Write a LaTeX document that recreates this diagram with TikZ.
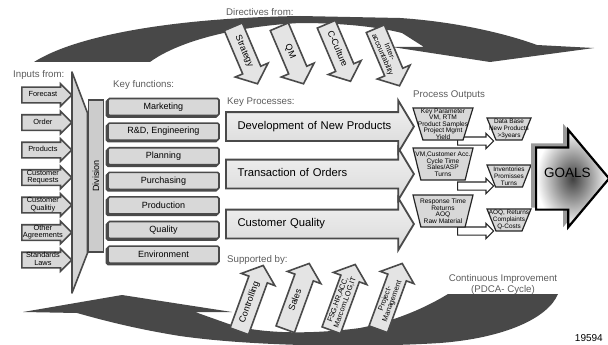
\documentclass[tikz,border=0pt]{standalone}
\usepackage{fontspec}
\setmainfont{Liberation Sans}
\usetikzlibrary{positioning, shapes.arrows, shapes.geometric, calc, shadows}

\definecolor{swoopGray}{HTML}{484848}
\definecolor{edgeGray}{HTML}{4A4A4A}
\definecolor{boxGray}{HTML}{D8D8D8}
\definecolor{paleGray}{HTML}{E4E4E4}
\definecolor{headingGray}{HTML}{5C5C5C}

\newcommand{\twoline}[2]{\begin{tabular}{@{}c@{}}#1\\#2\end{tabular}}

\begin{document}
\begin{tikzpicture}[
  x=1pt, y=-1pt,
  % Styles
  heading/.style={font=\fontsize{9.7}{11}\selectfont, text=headingGray, inner sep=0pt, align=center},
  inarrow/.style={
    single arrow, draw=edgeGray, fill=boxGray, line width=1.6pt,
    single arrow head extend=3.5pt, single arrow tip angle=90,
    minimum height=50pt, text height=5pt, text depth=1.5pt,
    inner xsep=0pt, inner ysep=3.75pt,
    font=\fontsize{7.4}{7.5}\selectfont, anchor=tail
  },
  divbox/.style={
    rectangle, draw=edgeGray, fill=black!20, line width=1.6pt,
    minimum width=152pt, minimum height=15pt, inner sep=0pt,
    font=\fontsize{9}{10}\selectfont
  },
  funcbox/.style={
    rectangle, rounded corners=1.5pt, draw=edgeGray, fill=boxGray, line width=1.6pt,
    minimum width=111pt, minimum height=17pt, inner sep=0pt,
    font=\fontsize{9}{10}\selectfont,
    copy shadow={shadow xshift=-1.5pt, shadow yshift=-1.5pt, fill=edgeGray, draw=edgeGray}
  },
  procarrow/.style={
    single arrow, draw=edgeGray, line width=1.8pt,
    top color=black!5, bottom color=black!15,
    single arrow head extend=11.5pt, single arrow tip angle=118,
    minimum height=188pt, text height=8pt, text depth=3pt,
    inner xsep=3pt, inner ysep=8pt, text width=156pt, align=left,
    font=\fontsize{11.25}{13}\selectfont, anchor=tail
  },
  pullarrow/.style={
    single arrow, draw=edgeGray, fill=paleGray, line width=1.6pt,
    single arrow head extend=8pt, single arrow tip angle=100,
    text height=6pt, text depth=2pt, inner xsep=1pt, inner ysep=5pt,
    font=\fontsize{9}{9.5}\selectfont, anchor=tail
  },
  dirarrow/.style={pullarrow, rotate=-67, minimum height=62pt},
  supparrow/.style={pullarrow, rotate=70, minimum height=70pt},
  outbox/.style={
    trapezium, shape border rotate=180, trapezium angle=72,
    trapezium stretches body=true, draw=black!85, fill=boxGray, line width=1.2pt,
    minimum width=60pt, minimum height=32pt, inner xsep=-9pt, inner ysep=0pt,
    align=center, font=\fontsize{6.6}{6.5}\selectfont
  },
  resultbox/.style={
    outbox, trapezium angle=65, minimum width=44pt, minimum height=22pt,
    inner xsep=-9.5pt, font=\fontsize{6.4}{6.8}\selectfont
  },
  hollowarrow/.style={
    single arrow, draw=black!85, fill=white, line width=1.2pt,
    single arrow head extend=3.5pt, single arrow tip angle=90,
    minimum height=36pt, text height=0pt, text depth=0pt,
    inner xsep=0pt, inner ysep=3.5pt, anchor=tail
  },
  goalarrow/.style={
    single arrow, draw=black, line width=2.2pt,
    inner color=black!75, outer color=white,
    single arrow head extend=17.5pt, single arrow tip angle=100,
    minimum height=73pt, text height=0pt, text depth=0pt,
    inner xsep=0pt, inner ysep=30pt, anchor=tail,
    copy shadow={shadow xshift=-4pt, shadow yshift=3pt, fill=black!40, draw=black!40}
  },
]
\useasboundingbox (0,0) rectangle (608,345);

% === PDCA SWOOSHES ===
\fill[swoopGray] (34,62) .. controls (75,36) and (170,18) .. (300,16) -- (400,18)
  .. controls (460,22) and (510,35) .. (537,45) -- (594,48) -- (490,62) -- (392,47)
  -- (424,47) -- (402,33) .. controls (370,25) and (330,23) .. (300,23)
  .. controls (240,26) and (180,40) .. (150,62) -- cycle;
\fill[swoopGray] (23,312) -- (122,295) -- (232,312) -- (195,312) -- (226,323)
  .. controls (250,332) and (300,336) .. (360,328)
  .. controls (400,320) and (430,305) .. (448,294)
  -- (558,294) .. controls (548,318) and (505,338) .. (440,343)
  .. controls (360,348) and (250,346) .. (180,336)
  .. controls (130,328) and (95,318) .. (77,313) -- cycle;

% === INPUTS ===
\node[heading, anchor=west] (inputslabel) at (13,75) {Inputs from:};
\node[inarrow] (forecast) at (21,95) {Forecast};
\node[inarrow] (order) at (21,122.5) {Order};
\node[inarrow] (products) at (21,150) {Products};
\node[inarrow] (custreq) at (21,177.5) {\twoline{Customer}{Requests}};
\node[inarrow] (custqual) at (21,205) {\twoline{Customer}{Qualitiy}};
\node[inarrow] (agreements) at (21,232.5) {\twoline{Other}{Agreements}};
\node[inarrow] (standards) at (21,260) {\twoline{Standards}{Laws}};

% === DIVISION ===
\draw[fill=black!17, draw=edgeGray, line width=1.6pt, line join=round]
  (72,72) -- (87.5,113) -- (87.5,253) -- (72,293) -- cycle;
\node[divbox, rotate=90] (division) at (95.8,176) {Division};

% === KEY FUNCTIONS ===
\node[heading, anchor=west] (funclabel) at (113,85) {Key functions:};
\node[funcbox] (marketing) at (163.5,107) {Marketing};
\node[funcbox, below=6pt of marketing] (rnd) {R\&D, Engineering};
\node[funcbox, below=6pt of rnd] (planning) {Planning};
\node[funcbox, below=6pt of planning] (purchasing) {Purchasing};
\node[funcbox, below=6pt of purchasing] (production) {Production};
\node[funcbox, below=6pt of production] (quality) {Quality};
\node[funcbox, below=6pt of quality] (environment) {Environment};

% === KEY PROCESSES ===
\node[heading, anchor=west] (proclabel) at (227,102) {Key Processes:};
\node[procarrow] (devproc) at (225,126.5) {Development of New Products};
\node[procarrow] (orderproc) at (225,174) {Transaction of Orders};
\node[procarrow] (qualproc) at (225,224) {Customer Quality};

% === PROCESS OUTPUTS ===
\node[heading, anchor=west] (outlabel) at (413,95) {Process Outputs};
\node[hollowarrow] (devout) at (457,141) {};
\node[hollowarrow] (orderout) at (457,186) {};
\node[hollowarrow] (qualout) at (457,231) {};
\node[outbox] (keypar) at (443,124) {Key Parameter\\VM, RTM\\Product Samples\\Project Mgmt\\Yield};
\node[outbox] (cycletime) at (443,164) {VM,Customer Acc.\\Cycle Time\\Sales/ASP\\Turns};
\node[outbox] (resptime) at (443,211) {Response Time\\Returns\\AOQ\\Raw Material};
\node[resultbox] (database) at (509,129) {Data Base\\New Products\\>3years};
\node[resultbox] (inventory) at (509,176) {Inventories\\Promisses\\Turns};
\node[resultbox] (complaints) at (509,220) {AOQ, Returns\\Complaints\\Q-Costs};

% === GOALS ===
\node[goalarrow] (goals) at (535,178.5) {};
\node[font=\fontsize{13.5}{15}\selectfont, yshift=6pt] (goalslabel)
  at ($(goals.tail)!0.43!(goals.tip)$) {GOALS};

% === DIRECTIVES ===
\node[heading, anchor=west] (dirlabel) at (226,12) {Directives from:};
\node[dirarrow] (strategy) at (233,26) {Strategy};
\node[dirarrow] (qm) at (279,26) {QM};
\node[dirarrow] (culture) at (326,23.5) {C-Culture};
\node[dirarrow] (interacc) at (375,28)
  {\fontsize{7.4}{7.6}\selectfont\twoline{Inter-}{accountability}};

% === SUPPORT ===
\node[heading, anchor=west] (supplabel) at (227,260) {Supported by:};
\node[supparrow] (controlling) at (239,332) {Controlling};
\node[supparrow] (sales) at (285,330) {Sales};
\node[supparrow] (staff) at (331,331)
  {\fontsize{7.4}{7.6}\selectfont\twoline{FSG,HR,ACC,}{Marcom,LOG,IT}};
\node[supparrow] (projmgmt) at (378,330)
  {\fontsize{7.4}{7.6}\selectfont\twoline{Project-}{Management}};

% === CYCLE NOTE ===
\node[heading] (cilabel) at (503,284.5) {Continuous Improvement\\(PDCA- Cycle)};
\node[font=\fontsize{10}{12}\selectfont, anchor=east, inner sep=0pt] (docnum) at (603,338) {19594};

\end{tikzpicture}
\end{document}
